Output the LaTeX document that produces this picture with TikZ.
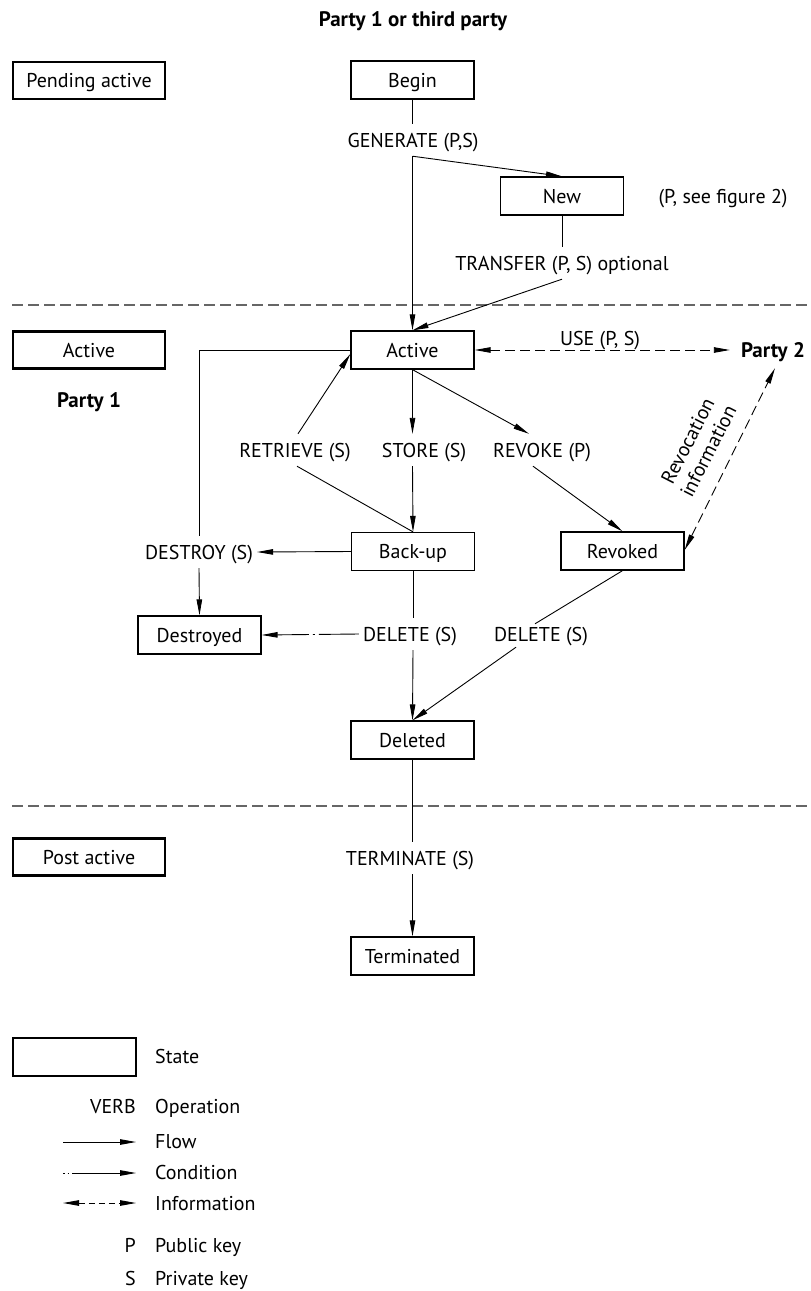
\documentclass[tikz,border=0pt]{standalone}
\usepackage{fontspec}
\setmainfont{PT Sans}
\usetikzlibrary{arrows.meta,calc}
\begin{document}
\begin{tikzpicture}[x=1pt,y=-1pt,
  font=\fontsize{20}{24}\selectfont,
  txt/.style={text height=14pt, text depth=0pt},
  state/.style={txt, draw, line width=1.3pt, minimum width=123pt, minimum height=38pt, inner sep=0pt},
  phase/.style={txt, draw, line width=2.6pt, minimum width=152pt, minimum height=37pt, inner sep=0pt},
  op/.style={txt, inner xsep=4pt, inner ysep=9pt},
  party/.style={txt, font=\fontsize{21}{24}\selectfont\bfseries, inner sep=11pt},
  legt/.style={txt, inner sep=0pt},
  tip/.tip={Triangle[length=16pt,width=5.5pt]},
  plain/.style={line width=0.9pt},
  flow/.style={line width=0.9pt, -tip},
  info/.style={line width=0.9pt, dash pattern=on 10pt off 5pt, tip-tip},
  cond/.style={line width=0.9pt, dash pattern=on 40pt off 4pt on 2pt off 4pt on 200pt off 1pt, -tip},
  sep/.style={draw=black!60, line width=1.4pt, dash pattern=on 11pt off 5pt}
]
\useasboundingbox (0,0) rectangle (811,1291);

% separators
\draw[sep] (12,305) -- (811,305);
\draw[sep] (12,806) -- (811,806);

% title and phases
\node[txt, font=\fontsize{21}{24}\selectfont\bfseries] (title) at (413,19) {Party 1 or third party};
\node[phase] (pph) at (89,80.5) {Pending active};
\node[phase] (aph) at (89,350) {Active};
\node[phase] (poph) at (89,857) {Post active};

% states and operations
\node[state] (begin) at (412.5,80) {Begin};
\node[op] (gen) at (413,140) {GENERATE (P,S)};
\node[state] (new) at (562,196) {New};
\node[txt] (seefig) at (723,196) {(P, see figure 2)};
\node[op] (transfer) at (562,263) {TRANSFER (P, S) optional};
\node[state] (active) at (412.5,350) {Active};
\node[txt] (use) at (600,338) {USE (P, S)};
\node[party] (party2) at (773,350) {Party 2};
\node[party] (party1) at (89,400) {Party 1};
\node[op] (retrieve) at (295,450) {RETRIEVE (S)};
\node[op] (store) at (424,450) {STORE (S)};
\node[op] (revoke) at (542,450) {REVOKE (P)};
\node[state] (backup) at (413,551.5) {Back-up};
\node[state] (revoked) at (622.5,551) {Revoked};
\node[op] (destroy) at (199,552) {DESTROY (S)};
\node[state] (destroyed) at (199.5,635) {Destroyed};
\node[op] (deleteL) at (410,634) {DELETE (S)};
\node[op] (deleteR) at (541,634) {DELETE (S)};
\node[state] (deleted) at (412.5,740) {Deleted};
\node[op] (terminate) at (410,858) {TERMINATE (S)};
\node[state] (terminated) at (412.5,956) {Terminated};
\node[rotate=63, align=center, inner sep=0pt, font=\fontsize{20}{23}\selectfont] (revinfo) at (698,446) {Revocation\\information};

% connectors
\draw[plain] (begin.south) -- (gen.north -| begin.south);
\draw[flow] (gen.south -| begin.south) -- (active.north);
\draw[flow] (gen.south -| begin.south) -- (new.north);
\draw[plain] (new.south) -- (transfer.north -| new.south);
\draw[flow] (transfer.south -| new.south) -- (active.north);
\draw[info] (active.east) -- (party2.west);
\draw[plain] (active.west) -| (destroy.north);
\draw[flow] (destroy.south) -- (destroyed.north);
\draw[flow] (backup.west) -- (destroy.east);
\draw[flow] (active.south) -- (store.north -| active.south);
\draw[flow] (store.south -| active.south) -- (backup.north);
\draw[flow] (active.south) -- ($(revoke.north)+(-13,0)$);
\draw[flow] ($(revoke.south)+(-9,0)$) -- (revoked.north);
\draw[plain] (backup.north) -- ($(retrieve.south)+(2,0)$);
\draw[flow] ($(retrieve.north)+(3,0)$) -- ($(active.west)+(0,4)$);
\draw[plain] (backup.south) -- (deleteL.north -| backup.south);
\draw[flow] (deleteL.south -| backup.south) -- (deleted.north);
\draw[cond] (deleteL.west) -- (destroyed.east);
\draw[plain] (revoked.south) -- ($(deleteR.north)+(-6,6)$);
\draw[flow] ($(deleteR.south)+(-25,-3)$) -- (deleted.north);
\draw[plain] (deleted.south) -- (terminate.north -| deleted.south);
\draw[flow] (terminate.south -| deleted.south) -- (terminated.north);
\draw[info] ($(revoked.east)+(0,-1)$) -- ($(party2.south)+(2,0)$);

% legend
\node[state] (legstate) at (74.5,1057) {};
\node[legt, anchor=west] (legstatet) at (155,1056) {State};
\node[legt, anchor=east] (verb) at (136,1106) {VERB};
\node[legt, anchor=west] (opt) at (155,1106) {Operation};
\coordinate (fl1) at (63,1142); \coordinate (fl2) at (136,1142);
\draw[flow] (fl1) -- (fl2);
\node[legt, anchor=west] (flowt) at (155,1141) {Flow};
\coordinate (co1) at (63,1173); \coordinate (co2) at (136,1173);
\draw[line width=0.9pt, dash pattern=on 1.5pt off 3pt on 1.5pt off 3pt on 200pt off 1pt, -tip] (co1) -- (co2);
\node[legt, anchor=west] (condt) at (155,1172) {Condition};
\coordinate (in1) at (63,1203); \coordinate (in2) at (136,1203);
\draw[line width=0.9pt, dash pattern=on 6pt off 4pt, tip-tip] (in1) -- (in2);
\node[legt, anchor=west] (infot) at (155,1203) {Information};
\node[legt, anchor=east] (pk) at (136,1245) {P};
\node[legt, anchor=west] (pkt) at (155,1245) {Public key};
\node[legt, anchor=east] (sk) at (136,1278) {S};
\node[legt, anchor=west] (skt) at (155,1278) {Private key};
\end{tikzpicture}
\end{document}
